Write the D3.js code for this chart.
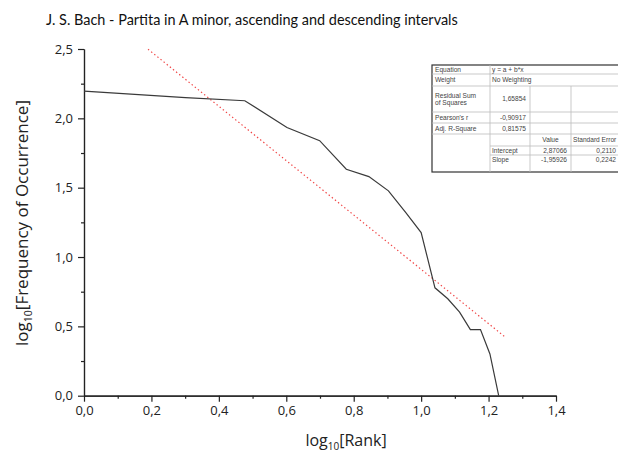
<!DOCTYPE html>
<html><head><meta charset="utf-8">
<script src="https://cdn.jsdelivr.net/npm/d3@7"></script>
<style>body{margin:0;background:#fff}svg{display:block}</style>
</head><body>
<svg id="chart" width="618" height="453"></svg>
<script>
// ---- data ----
const titleText = "J. S. Bach - Partita in A minor, ascending and descending intervals";
const logRank = [0, 0.301, 0.477, 0.602, 0.699, 0.778, 0.845, 0.903, 0.954, 1.0, 1.041, 1.079, 1.114, 1.146, 1.176, 1.204, 1.230];
const logFreq = [2.196, 2.149, 2.127, 1.934, 1.839, 1.633, 1.580, 1.477, 1.322, 1.176, 0.778, 0.699, 0.602, 0.477, 0.477, 0.301, 0];
const fitIntercept = 2.87066;
const fitSlope = -1.95926;
const fitRange = [0.19, 1.25];
const xTicks = [0, 0.2, 0.4, 0.6, 0.8, 1.0, 1.2, 1.4];
const xMinor = [0.1, 0.3, 0.5, 0.7, 0.9, 1.1, 1.3];
const yTicks = [0, 0.5, 1.0, 1.5, 2.0, 2.5];
const yMinor = [0.25, 0.75, 1.25, 1.75, 2.25];
const tableRows = [
  ["Equation", "y = a + b*x"],
  ["Weight", "No Weighting"],
  ["Residual Sum|of Squares", "1,65854", "", ""],
  ["Pearson's r", "-0,90917", "", ""],
  ["Adj. R-Square", "0,81575", "", ""],
  ["", "", "Value", "Standard Error"],
  ["", "Intercept", "2,87066", "0,2110"],
  ["", "Slope", "-1,95926", "0,2242"]
];

const svg = d3.select("#chart");
const x = d3.scaleLinear().domain([0, 1.4]).range([84, 556]);
const y = d3.scaleLinear().domain([0, 2.5]).range([395.7, 49]);
const fmt = d => d.toFixed(1).replace(".", ",");
const tickFont = "Open Sans, sans-serif";

// title
const title = svg.append("text").attr("x", 46).attr("y", 25)
  .attr("font-family", "Lato, sans-serif").attr("font-size", 15).attr("fill", "#111")
  .text(titleText);
{
  const w = title.node().getComputedTextLength();
  title.attr("font-size", 15 * 412 / w);
}

// axes
svg.append("g").attr("transform", `translate(0,${y(0)})`)
  .call(d3.axisBottom(x).tickValues(xTicks).tickFormat(fmt).tickSize(6).tickSizeOuter(0).tickPadding(4));
svg.append("g").attr("transform", `translate(0,${y(0)})`)
  .call(d3.axisBottom(x).tickValues(xMinor).tickFormat("").tickSize(3).tickSizeOuter(0));
svg.append("g").attr("transform", `translate(${x(0)},0)`)
  .call(d3.axisLeft(y).tickValues(yTicks).tickFormat(fmt).tickSize(6).tickSizeOuter(0).tickPadding(5));
svg.append("g").attr("transform", `translate(${x(0)},0)`)
  .call(d3.axisLeft(y).tickValues(yMinor).tickFormat("").tickSize(3).tickSizeOuter(0));
svg.selectAll(".domain, .tick line").attr("stroke", "#222").attr("stroke-width", 1.2);
svg.selectAll(".tick text").attr("font-family", tickFont).attr("font-size", 13).attr("fill", "#222");

// axis titles
const xt = svg.append("text").attr("x", 346).attr("y", 446).attr("text-anchor", "middle")
  .attr("font-family", tickFont).attr("font-size", 16).attr("fill", "#222");
xt.append("tspan").text("log");
xt.append("tspan").attr("font-size", 10).attr("dy", 4).text("10");
xt.append("tspan").attr("dy", -4).text("[Rank]");

const yt = svg.append("text").attr("transform", "translate(28,223) rotate(-90)").attr("text-anchor", "middle")
  .attr("font-family", tickFont).attr("font-size", 17).attr("fill", "#222");
yt.append("tspan").text("log");
yt.append("tspan").attr("font-size", 10.5).attr("dy", 4).text("10");
yt.append("tspan").attr("dy", -4).text("[Frequency of Occurrence]");

// fit line
svg.append("line")
  .attr("x1", x(fitRange[0])).attr("y1", y(fitIntercept + fitSlope * fitRange[0]))
  .attr("x2", x(fitRange[1])).attr("y2", y(fitIntercept + fitSlope * fitRange[1]))
  .attr("stroke", "#f04646").attr("stroke-width", 1.2).attr("stroke-dasharray", "1.4,2.6");

// data line
svg.append("path").datum(logRank.map((r, i) => [r, logFreq[i]]))
  .attr("d", d3.line().x(d => x(d[0])).y(d => y(d[1])))
  .attr("fill", "none").attr("stroke", "#3a3a3a").attr("stroke-width", 1.2);

// stats table
const T = svg.append("g").attr("font-family", "Liberation Sans, Arial, sans-serif").attr("font-size", 6.6).attr("fill", "#444");
const colX = [432, 490, 530, 571, 618];
const rowY = [65, 74, 86, 112, 123, 134, 146, 155, 165];
const tBottom = 172;
T.append("rect").attr("x", colX[0]).attr("y", rowY[0]).attr("width", 200).attr("height", tBottom - rowY[0])
  .attr("fill", "#fff").attr("stroke", "#333").attr("stroke-width", 1.2);
rowY.slice(1, 6).forEach(v => T.append("line").attr("x1", colX[0]).attr("x2", 618).attr("y1", v).attr("y2", v).attr("stroke", "#bbb").attr("stroke-width", 0.8));
rowY.slice(6, 8).forEach(v => T.append("line").attr("x1", colX[1]).attr("x2", 618).attr("y1", v).attr("y2", v).attr("stroke", "#bbb").attr("stroke-width", 0.8));
T.append("line").attr("x1", colX[1]).attr("x2", colX[1]).attr("y1", rowY[0]).attr("y2", tBottom).attr("stroke", "#bbb").attr("stroke-width", 0.8);
[colX[2], colX[3]].forEach(c => T.append("line").attr("x1", c).attr("x2", c).attr("y1", rowY[2]).attr("y2", tBottom).attr("stroke", "#bbb").attr("stroke-width", 0.8));
tableRows.forEach((row, i) => {
  const cy = (rowY[i] + rowY[i + 1]) / 2 + 2.3;
  row.forEach((cell, j) => {
    if (!cell) return;
    if (j === 0) {
      const parts = cell.split("|");
      parts.forEach((p, k) => T.append("text").attr("x", colX[0] + 3)
        .attr("y", cy + (k - (parts.length - 1) / 2) * 7.5).text(p));
    } else if (row.length === 2 || i >= 5 && j === 1) {
      T.append("text").attr("x", colX[1] + 2).attr("y", cy).text(cell);
    } else if (i === 5) {
      T.append("text").attr("x", j === 2 ? (colX[2] + colX[3]) / 2 : colX[3] + 2).attr("y", cy)
        .attr("text-anchor", j === 2 ? "middle" : "start").text(cell);
    } else {
      T.append("text").attr("x", colX[j + 1] - (j === 3 ? 2 : 4)).attr("y", cy).attr("text-anchor", "end").text(cell);
    }
  });
});
</script>
</body></html>
